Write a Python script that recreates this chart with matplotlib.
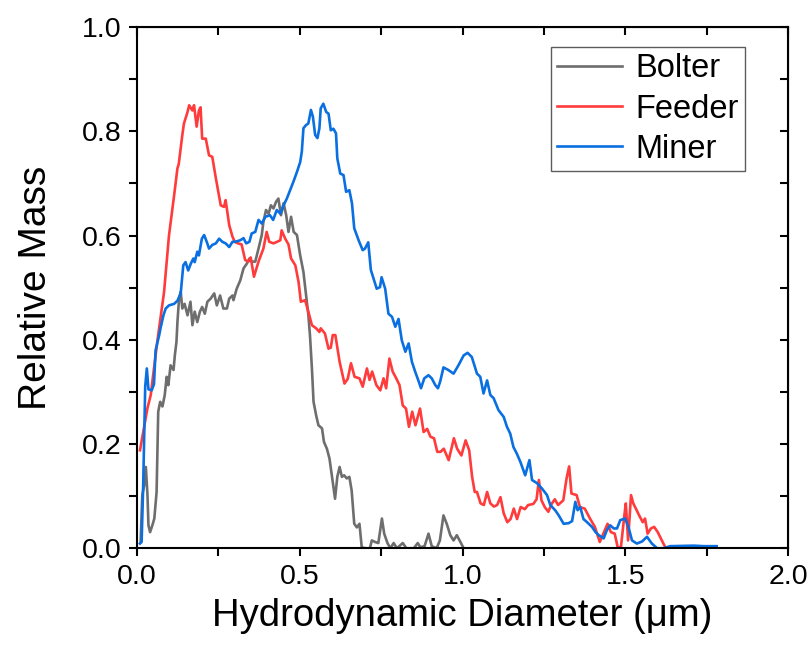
import matplotlib
matplotlib.use("Agg")
import matplotlib.pyplot as plt
from matplotlib.ticker import MultipleLocator

plt.rcParams['font.family'] = ['Liberation Sans', 'DejaVu Sans']

# (diameter um, relative mass)
bolter = [(0.011, 0.012), (0.016, 0.102), (0.022, 0.121), (0.027, 0.156), (0.032, 0.102), (0.035, 0.044),
          (0.040, 0.031), (0.047, 0.044), (0.053, 0.057), (0.060, 0.108), (0.065, 0.262), (0.071, 0.281),
          (0.078, 0.272), (0.085, 0.294), (0.091, 0.329), (0.096, 0.313), (0.103, 0.351), (0.112, 0.342),
          (0.116, 0.370), (0.121, 0.396), (0.124, 0.434), (0.129, 0.479), (0.134, 0.492), (0.139, 0.460),
          (0.146, 0.469), (0.155, 0.447), (0.164, 0.473), (0.170, 0.428), (0.177, 0.454), (0.185, 0.434),
          (0.193, 0.454), (0.200, 0.463), (0.208, 0.450), (0.216, 0.473), (0.226, 0.479), (0.237, 0.489),
          (0.245, 0.466), (0.255, 0.485), (0.265, 0.460), (0.276, 0.460), (0.283, 0.479), (0.293, 0.485),
          (0.296, 0.476), (0.306, 0.498), (0.317, 0.514), (0.327, 0.537), (0.337, 0.546), (0.345, 0.556),
          (0.352, 0.550), (0.363, 0.550), (0.373, 0.575), (0.383, 0.601), (0.388, 0.626), (0.396, 0.649),
          (0.404, 0.642), (0.411, 0.658), (0.419, 0.652), (0.427, 0.665), (0.434, 0.671), (0.442, 0.639),
          (0.450, 0.662), (0.458, 0.639), (0.465, 0.607), (0.473, 0.636), (0.481, 0.607), (0.491, 0.601),
          (0.501, 0.562), (0.511, 0.530), (0.519, 0.486), (0.526, 0.448), (0.531, 0.409), (0.537, 0.345),
          (0.542, 0.281), (0.550, 0.255), (0.557, 0.236), (0.568, 0.230), (0.574, 0.204), (0.583, 0.191),
          (0.591, 0.172), (0.603, 0.118), (0.608, 0.095), (0.615, 0.137), (0.622, 0.156), (0.629, 0.137),
          (0.636, 0.140), (0.644, 0.134), (0.652, 0.137), (0.659, 0.111), (0.667, 0.047), (0.675, 0.040),
          (0.683, 0.047), (0.690, 0.002), (0.700, 0.000), (0.715, 0.000), (0.721, 0.015), (0.731, 0.012),
          (0.741, 0.010), (0.752, 0.057), (0.759, 0.028), (0.769, 0.010), (0.778, 0.000), (0.788, 0.010),
          (0.798, 0.000), (0.816, 0.010), (0.827, 0.000), (0.850, 0.000), (0.862, 0.010), (0.870, 0.002),
          (0.883, 0.004), (0.895, 0.028), (0.905, 0.004), (0.920, 0.000), (0.930, 0.015), (0.941, 0.063),
          (0.951, 0.047), (0.962, 0.025), (0.972, 0.015), (0.982, 0.025), (0.993, 0.012), (1.003, 0.000)]

feeder = [(0.009, 0.188), (0.032, 0.269), (0.042, 0.294), (0.062, 0.396), (0.083, 0.492), (0.098, 0.600),
          (0.114, 0.678), (0.124, 0.729), (0.128, 0.737), (0.139, 0.793), (0.144, 0.815), (0.155, 0.837),
          (0.160, 0.850), (0.170, 0.840), (0.175, 0.850), (0.183, 0.809), (0.190, 0.840), (0.195, 0.846),
          (0.200, 0.786), (0.211, 0.786), (0.221, 0.754), (0.231, 0.751), (0.242, 0.710), (0.257, 0.658),
          (0.267, 0.655), (0.272, 0.668), (0.283, 0.620), (0.293, 0.598), (0.300, 0.588), (0.310, 0.585),
          (0.321, 0.583), (0.332, 0.553), (0.342, 0.550), (0.349, 0.558), (0.359, 0.521), (0.373, 0.550),
          (0.388, 0.575), (0.398, 0.607), (0.406, 0.588), (0.419, 0.585), (0.430, 0.588), (0.440, 0.591),
          (0.444, 0.610), (0.455, 0.594), (0.465, 0.583), (0.473, 0.556), (0.486, 0.543), (0.496, 0.511),
          (0.503, 0.473), (0.516, 0.476), (0.526, 0.454), (0.537, 0.428), (0.550, 0.422), (0.560, 0.415),
          (0.564, 0.422), (0.577, 0.412), (0.588, 0.383), (0.595, 0.385), (0.601, 0.409), (0.609, 0.409),
          (0.622, 0.358), (0.637, 0.316), (0.647, 0.325), (0.657, 0.355), (0.668, 0.329), (0.683, 0.326),
          (0.693, 0.310), (0.706, 0.345), (0.714, 0.323), (0.722, 0.339), (0.735, 0.313), (0.747, 0.303),
          (0.757, 0.326), (0.765, 0.307), (0.775, 0.364), (0.785, 0.339), (0.796, 0.326), (0.806, 0.313),
          (0.816, 0.274), (0.826, 0.268), (0.835, 0.233), (0.845, 0.262), (0.855, 0.236), (0.869, 0.268),
          (0.880, 0.223), (0.891, 0.229), (0.901, 0.214), (0.912, 0.211), (0.922, 0.185), (0.932, 0.185),
          (0.942, 0.191), (0.957, 0.169), (0.973, 0.211), (0.983, 0.191), (0.996, 0.178), (1.009, 0.207),
          (1.020, 0.188), (1.029, 0.137), (1.037, 0.108), (1.044, 0.108), (1.055, 0.086), (1.065, 0.083),
          (1.075, 0.108), (1.085, 0.086), (1.096, 0.080), (1.106, 0.083), (1.116, 0.098), (1.126, 0.067),
          (1.137, 0.050), (1.147, 0.056), (1.157, 0.076), (1.167, 0.056), (1.178, 0.079), (1.191, 0.075),
          (1.201, 0.083), (1.217, 0.085), (1.227, 0.094), (1.234, 0.131), (1.242, 0.092), (1.252, 0.079),
          (1.263, 0.070), (1.273, 0.085), (1.283, 0.094), (1.293, 0.083), (1.309, 0.092), (1.319, 0.134),
          (1.327, 0.157), (1.334, 0.105), (1.350, 0.102), (1.360, 0.079), (1.375, 0.076), (1.391, 0.057),
          (1.406, 0.041), (1.421, 0.012), (1.432, 0.028), (1.445, 0.047), (1.455, 0.031), (1.467, 0.028),
          (1.476, 0.002), (1.486, 0.002), (1.496, 0.060), (1.501, 0.086), (1.508, 0.015), (1.517, 0.102),
          (1.524, 0.086), (1.532, 0.076), (1.542, 0.063), (1.553, 0.050), (1.560, 0.057), (1.568, 0.028),
          (1.578, 0.038), (1.588, 0.041), (1.599, 0.031), (1.614, 0.012), (1.624, 0.000), (1.640, 0.000)]

miner = [(0.009, 0.009), (0.014, 0.012), (0.019, 0.125), (0.025, 0.310), (0.030, 0.345), (0.035, 0.305),
         (0.045, 0.303), (0.052, 0.315), (0.057, 0.380), (0.068, 0.409), (0.072, 0.422), (0.081, 0.447),
         (0.088, 0.460), (0.098, 0.466), (0.114, 0.469), (0.124, 0.475), (0.134, 0.489), (0.142, 0.543),
         (0.149, 0.549), (0.157, 0.533), (0.165, 0.546), (0.173, 0.556), (0.177, 0.549), (0.185, 0.569),
         (0.190, 0.562), (0.199, 0.594), (0.206, 0.601), (0.214, 0.588), (0.221, 0.575), (0.231, 0.582),
         (0.242, 0.585), (0.252, 0.594), (0.262, 0.588), (0.272, 0.585), (0.283, 0.578), (0.293, 0.588),
         (0.301, 0.588), (0.317, 0.591), (0.327, 0.595), (0.335, 0.585), (0.345, 0.588), (0.352, 0.604),
         (0.363, 0.607), (0.373, 0.630), (0.383, 0.623), (0.394, 0.636), (0.408, 0.639), (0.418, 0.630),
         (0.429, 0.649), (0.440, 0.642), (0.450, 0.658), (0.460, 0.671), (0.470, 0.687), (0.480, 0.703),
         (0.491, 0.722), (0.501, 0.741), (0.506, 0.761), (0.511, 0.806), (0.519, 0.812), (0.526, 0.815),
         (0.534, 0.841), (0.540, 0.828), (0.547, 0.793), (0.554, 0.787), (0.560, 0.806), (0.564, 0.844),
         (0.572, 0.853), (0.581, 0.837), (0.588, 0.834), (0.595, 0.802), (0.603, 0.805), (0.611, 0.796),
         (0.615, 0.748), (0.624, 0.719), (0.634, 0.716), (0.642, 0.684), (0.652, 0.687), (0.660, 0.662),
         (0.667, 0.614), (0.681, 0.590), (0.693, 0.572), (0.700, 0.575), (0.710, 0.587), (0.718, 0.534),
         (0.726, 0.518), (0.736, 0.498), (0.746, 0.501), (0.751, 0.520), (0.762, 0.498), (0.772, 0.450),
         (0.783, 0.444), (0.793, 0.425), (0.803, 0.440), (0.813, 0.399), (0.824, 0.377), (0.834, 0.393),
         (0.844, 0.358), (0.854, 0.339), (0.865, 0.320), (0.872, 0.307), (0.882, 0.326), (0.895, 0.332),
         (0.905, 0.326), (0.916, 0.313), (0.924, 0.307), (0.931, 0.320), (0.941, 0.347), (0.956, 0.342),
         (0.972, 0.335), (0.987, 0.351), (1.003, 0.370), (1.015, 0.375), (1.028, 0.367), (1.039, 0.345),
         (1.044, 0.335), (1.054, 0.329), (1.064, 0.297), (1.075, 0.322), (1.085, 0.294), (1.095, 0.288),
         (1.110, 0.265), (1.126, 0.252), (1.136, 0.233), (1.146, 0.220), (1.156, 0.194), (1.166, 0.182),
         (1.177, 0.166), (1.192, 0.140), (1.205, 0.169), (1.213, 0.131), (1.228, 0.125), (1.243, 0.115),
         (1.259, 0.102), (1.269, 0.083), (1.284, 0.073), (1.295, 0.063), (1.310, 0.047), (1.325, 0.048),
         (1.336, 0.052), (1.346, 0.089), (1.353, 0.073), (1.361, 0.079), (1.371, 0.056), (1.382, 0.050),
         (1.397, 0.041), (1.408, 0.031), (1.418, 0.025), (1.433, 0.019), (1.443, 0.035), (1.453, 0.044),
         (1.464, 0.038), (1.474, 0.038), (1.484, 0.054), (1.499, 0.057), (1.509, 0.041), (1.520, 0.015),
         (1.535, 0.009), (1.551, 0.013), (1.566, 0.022), (1.581, 0.009), (1.597, 0.000), (1.617, 0.000),
         (1.637, 0.004), (1.710, 0.005), (1.740, 0.004), (1.780, 0.004)]

series_names = ['Bolter', 'Feeder', 'Miner']
series_colors = ['#6e6e6e', '#ff3b3b', '#0a6fe0']

fig = plt.figure(figsize=(8.11, 6.45), dpi=100)
ax = fig.add_axes([0.169, 0.150, 0.803, 0.808])

for data, name, col in zip([bolter, feeder, miner], series_names, series_colors):
    xs = [p[0] for p in data]
    ys = [p[1] for p in data]
    ax.plot(xs, ys, color=col, lw=1.9, label=name)

ax.set_xlim(0, 2.0)
ax.set_ylim(0, 1.0)
ax.xaxis.set_major_locator(MultipleLocator(0.5))
ax.xaxis.set_minor_locator(MultipleLocator(0.25))
ax.yaxis.set_major_locator(MultipleLocator(0.2))
ax.yaxis.set_minor_locator(MultipleLocator(0.1))

for s in ax.spines.values():
    s.set_linewidth(1.5)

ax.tick_params(which='both', direction='out', width=1.5, labelsize=20.5, top=False, right=False)
ax.tick_params(which='major', length=6, pad=5)
ax.tick_params(which='minor', length=6)

# inward ticks on top / right without labels
axt = ax.secondary_xaxis('top')
axt.xaxis.set_major_locator(MultipleLocator(0.5))
axt.xaxis.set_minor_locator(MultipleLocator(0.25))
axt.tick_params(which='both', direction='in', length=6, width=1.5, labeltop=False)
axr = ax.secondary_yaxis('right')
axr.yaxis.set_major_locator(MultipleLocator(0.2))
axr.yaxis.set_minor_locator(MultipleLocator(0.1))
axr.tick_params(which='both', direction='in', length=6, width=1.5, labelright=False)

ax.set_xlabel('Hydrodynamic Diameter (μm)', fontsize=27.5, labelpad=6)
ax.set_ylabel('Relative Mass', fontsize=28, labelpad=20)

leg = ax.legend(loc='upper right', bbox_to_anchor=(0.934, 0.962), borderaxespad=0,
                fontsize=23.5, frameon=True, fancybox=False,
                handlelength=2.0, handletextpad=0.4,
                labelspacing=0.28, borderpad=0.2)
leg.get_frame().set_edgecolor('#333333')
leg.get_frame().set_linewidth(1.0)

fig.savefig('out.png', dpi=100)
